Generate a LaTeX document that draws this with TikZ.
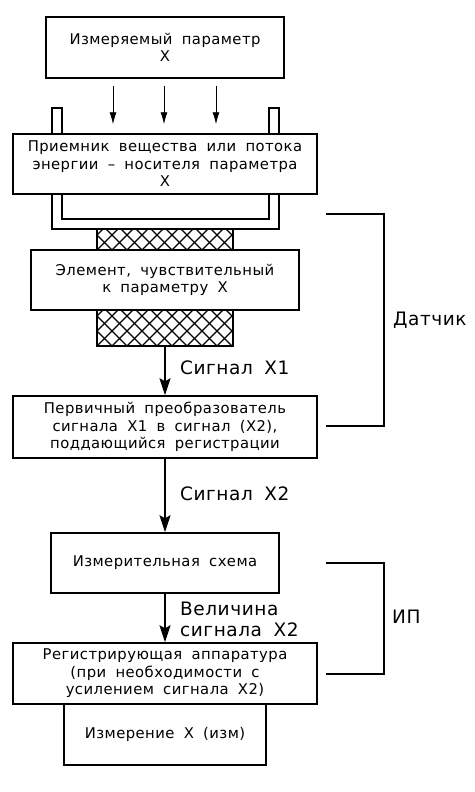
\documentclass[tikz,border=0pt]{standalone}
\usepackage{fontspec}
\setmainfont{DejaVu Sans}[LetterSpace=3,WordSpace=1.8]
\usetikzlibrary{arrows.meta}
\begin{document}
\begin{tikzpicture}[x=1pt,y=-1pt,
  box/.style={draw,line width=1.5pt,fill=white,inner sep=0pt,align=center,
    font=\fontsize{14.8}{17.5}\selectfont},
  hatchbox/.style={draw,line width=1.5pt,inner sep=0pt,
    path picture={
      \foreach \k in {-6,...,14}{
        \draw[line width=1.3pt] ([xshift=\k*15pt]path picture bounding box.south west) -- ++(60pt,60pt);
        \draw[line width=1.3pt] ([xshift=\k*15pt]path picture bounding box.south west) -- ++(-60pt,60pt);
      }}},
  lbl/.style={anchor=west,inner sep=0pt,align=left,font=\fontsize{18.5}{21}\selectfont},
  thinarrow/.style={line width=0.9pt,-{Latex[length=12pt,width=7pt]}},
  sigarrow/.style={line width=1.6pt,-{Stealth[length=17pt,width=11pt,inset=3pt]}},
  brace/.style={line width=1.5pt},
  tube/.style={draw,line width=1.5pt}
]
\useasboundingbox (0,0) rectangle (474,792);

% tube (U-shape)
\draw[tube] (52,108) -- (52,229) -- (279,229) -- (279,108) -- (269,108)
  -- (269,219) -- (62,219) -- (62,108) -- cycle;

\node[box,minimum width=238pt,minimum height=61pt] (b1) at (165,47.5)
  {Измеряемый параметр\\X};
\node[box,minimum width=304pt,minimum height=60pt] (b2) at (165,164)
  {Приемник вещества или потока\\энергии -- носителя параметра\\X};
\node[hatchbox,minimum width=136pt,minimum height=21pt] (h1) at (165,239.5) {};
\node[box,minimum width=268pt,minimum height=60pt] (b3) at (165,280)
  {Элемент, чувствительный\\к параметру X};
\node[hatchbox,minimum width=136pt,minimum height=36pt] (h2) at (165,328) {};
\node[box,minimum width=304pt,minimum height=62pt] (b4) at (165,427)
  {Первичный преобразователь\\сигнала X1 в сигнал (X2),\\поддающийся регистрации};
\node[box,minimum width=228pt,minimum height=60pt] (b5) at (165,563)
  {Измерительная схема};
\node[box,minimum width=304pt,minimum height=61pt] (b6) at (165,673.5)
  {Регистрирующая аппаратура\\(при необходимости с\\усилением сигнала X2)};
\node[box,minimum width=202pt,minimum height=61pt] (b7) at (165,734.5)
  {Измерение X (изм)};

% thin arrows from parameter to receiver
\foreach \dx in {-52,-1,51}{
  \draw[thinarrow] ([xshift=\dx pt,yshift=-7pt]b1.south) -- ([xshift=\dx pt,yshift=9pt]b2.north);
}

% signal arrows
\draw[sigarrow] (h2.south) -- (b4.north);
\draw[sigarrow] (b4.south) -- (b5.north);
\draw[sigarrow] (b5.south) -- (b6.north);

\node[lbl] (l1) at (180,368) {Сигнал X1};
\node[lbl] (l2) at (180,494) {Сигнал X2};
\node[lbl] (l3) at (180,619.5) {Величина\\сигнала X2};

% brackets
\coordinate (d1) at (326,214);
\coordinate (d2) at (384,214);
\coordinate (d3) at (384,426);
\coordinate (d4) at (326,426);
\draw[brace] (d1) -- (d2) -- (d3) -- (d4);
\node[lbl] (dat) at (393,320) {Датчик};

\coordinate (i1) at (326,563);
\coordinate (i2) at (384,563);
\coordinate (i3) at (384,674);
\coordinate (i4) at (326,674);
\draw[brace] (i1) -- (i2) -- (i3) -- (i4);
\node[lbl] (ip) at (392,617) {ИП};
\end{tikzpicture}
\end{document}
